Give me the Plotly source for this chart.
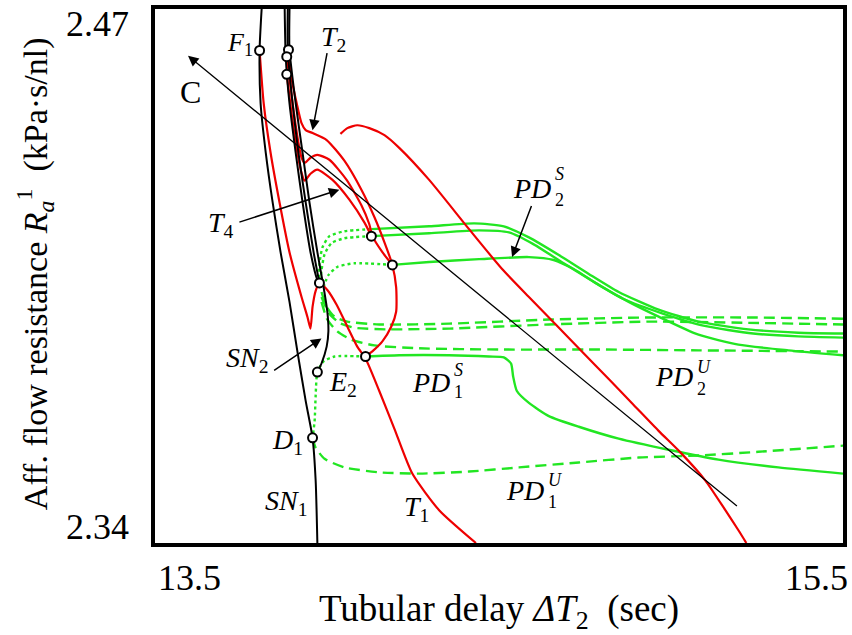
import plotly.graph_objects as go

# ---------------- data (x: tubular delay ΔT2 [sec], y: R_a^1 [kPa·s/nl]) ----------------
# saddle-node curves (black)
sn1_x = [13.810, 13.804, 13.807, 13.822, 13.842, 13.865, 13.891, 13.914, 13.938, 13.958, 13.967, 13.972]
sn1_y = [2.4700, 2.4599, 2.4470, 2.4350, 2.4229, 2.4108, 2.3987, 2.3866, 2.3746, 2.3656, 2.3552, 2.3400]

b1_x = [13.877, 13.880, 13.891, 13.909, 13.929, 13.952, 13.972, 13.978]
b1_y = [2.4700, 2.4584, 2.4470, 2.4350, 2.4229, 2.4108, 2.4040, 2.4031]
b2_x = [13.886, 13.886, 13.900, 13.917, 13.938, 13.961, 13.978]
b2_y = [2.4700, 2.4601, 2.4470, 2.4350, 2.4229, 2.4108, 2.4033]
sn2_x = [13.891, 13.891, 13.909, 13.929, 13.949, 13.972, 13.990, 14.001, 14.004, 13.999, 13.984, 13.972]
sn2_y = [2.4700, 2.4601, 2.4470, 2.4350, 2.4229, 2.4108, 2.4023, 2.3963, 2.3915, 2.3878, 2.3837, 2.3816]

# torus curves (red)
t1_x = [13.804, 13.816, 13.836, 13.862, 13.891, 13.926, 13.943, 13.952, 13.958, 13.967, 13.978,
        14.001, 14.028, 14.059, 14.088, 14.112, 14.152, 14.196, 14.248, 14.326, 14.433]
t1_y = [2.4599, 2.4470, 2.4350, 2.4229, 2.4108, 2.3999, 2.3951, 2.3922, 2.3975, 2.4014, 2.4033,
        2.4016, 2.3980, 2.3927, 2.3878, 2.3849, 2.3770, 2.3678, 2.3569, 2.3480, 2.3400]

t2_x = [13.888, 13.897, 13.912, 13.926, 13.938, 13.958, 13.999, 14.051, 14.100, 14.138, 14.167,
        14.190, 14.201, 14.201, 14.187, 14.161, 14.135, 14.112]
t2_y = [2.4601, 2.4531, 2.4470, 2.4422, 2.4405, 2.4398, 2.4381, 2.4330, 2.4260, 2.4193, 2.4132,
        2.4077, 2.4023, 2.3963, 2.3927, 2.3891, 2.3869, 2.3854]

t3_x = [13.883, 13.900, 13.917, 13.926, 13.935, 13.952, 13.972, 14.007, 14.057, 14.100, 14.123,
        14.132, 14.161, 14.190]
t3_y = [2.4584, 2.4470, 2.4374, 2.4338, 2.4325, 2.4338, 2.4345, 2.4333, 2.4284, 2.4222, 2.4176,
        2.4147, 2.4108, 2.4077]

t4_x = [13.883, 13.897, 13.914, 13.926, 13.935, 13.952, 13.972, 14.016, 14.065, 14.109, 14.129]
t4_y = [2.4541, 2.4446, 2.4350, 2.4301, 2.4282, 2.4299, 2.4309, 2.4284, 2.4236, 2.4180, 2.4147]

t5_x = [14.039, 14.059, 14.088, 14.123, 14.167, 14.210, 14.297, 14.413, 14.509, 14.587, 14.665,
        14.741, 14.819, 14.886, 14.964, 15.028, 15.100, 15.158, 15.196, 15.219]
t5_y = [2.4396, 2.4410, 2.4417, 2.4410, 2.4393, 2.4362, 2.4284, 2.4164, 2.4067, 2.3999, 2.3932,
        2.3866, 2.3799, 2.3741, 2.3673, 2.3620, 2.3552, 2.3480, 2.3431, 2.3400]

# period-doubling curves (green): stable (solid)
pd1s_x = [14.112, 14.210, 14.355, 14.471, 14.514, 14.535, 14.541, 14.552, 14.587, 14.645, 14.732,
          14.848, 14.993, 15.138, 15.312, 15.500]
pd1s_y = [2.3854, 2.3857, 2.3857, 2.3854, 2.3852, 2.3837, 2.3806, 2.3770, 2.3741, 2.3709, 2.3683,
          2.3654, 2.3627, 2.3603, 2.3584, 2.3569]

pd2s_a_x = [14.190, 14.297, 14.442, 14.587, 14.659, 14.717, 14.790, 14.877, 14.964, 15.080, 15.196, 15.341, 15.500]
pd2s_a_y = [2.4077, 2.4084, 2.4091, 2.4096, 2.4089, 2.4067, 2.4028, 2.3987, 2.3951, 2.3907, 2.3883, 2.3869, 2.3857]
pd2s_b_x = [14.129, 14.297, 14.428, 14.514, 14.587, 14.674, 14.761, 14.848, 14.964, 15.080, 15.225, 15.370, 15.500]
pd2s_b_y = [2.4164, 2.4171, 2.4178, 2.4171, 2.4144, 2.4101, 2.4055, 2.4011, 2.3968, 2.3939, 2.3920, 2.3912, 2.3910]
pd2s_c_x = [14.129, 14.297, 14.442, 14.529, 14.601, 14.688, 14.775, 14.862, 14.978, 15.094, 15.239, 15.370, 15.500]
pd2s_c_y = [2.4147, 2.4154, 2.4161, 2.4156, 2.4127, 2.4081, 2.4036, 2.3994, 2.3958, 2.3929, 2.3910, 2.3903, 2.3900]

# unstable (dashed)
pd1u_x = [13.958, 13.967, 13.993, 14.051, 14.152, 14.268, 14.413, 14.558, 14.732, 14.906, 15.080, 15.254, 15.500]
pd1u_y = [2.3656, 2.3632, 2.3605, 2.3584, 2.3572, 2.3569, 2.3574, 2.3584, 2.3596, 2.3608, 2.3613, 2.3622, 2.3637]
pd2u_a_x = [13.984, 13.999, 14.022, 14.059, 14.152, 14.355, 14.645, 14.935, 15.225, 15.500]
pd2u_a_y = [2.4011, 2.3975, 2.3951, 2.3939, 2.3932, 2.3934, 2.3944, 2.3949, 2.3949, 2.3946]
pd2u_b_x = [13.984, 14.007, 14.036, 14.080, 14.181, 14.355, 14.645, 14.935, 15.225, 15.500]
pd2u_b_y = [2.3999, 2.3958, 2.3936, 2.3924, 2.3920, 2.3922, 2.3932, 2.3939, 2.3936, 2.3932]
pd2u_c_x = [13.984, 14.001, 14.030, 14.071, 14.138, 14.268, 14.500, 14.790, 15.080, 15.500]
pd2u_c_y = [2.3987, 2.3944, 2.3915, 2.3895, 2.3881, 2.3874, 2.3871, 2.3871, 2.3869, 2.3866]

# connecting branches (dotted)
dot_a_x = [14.129, 14.051, 14.007, 13.987, 13.978, 13.978]
dot_a_y = [2.4164, 2.4159, 2.4147, 2.4120, 2.4079, 2.4031]
dot_b_x = [14.129, 14.051, 14.013, 13.993, 13.984, 13.981]
dot_b_y = [2.4147, 2.4142, 2.4130, 2.4103, 2.4064, 2.4026]
dot_c_x = [14.190, 14.080, 14.030, 14.004, 13.990]
dot_c_y = [2.4077, 2.4081, 2.4072, 2.4052, 2.4023]
dot_d_x = [14.112, 14.022, 13.990, 13.972, 13.967, 13.964, 13.958]
dot_d_y = [2.3854, 2.3854, 2.3842, 2.3816, 2.3758, 2.3697, 2.3656]

# codimension-two points
pts_x = [13.804, 13.888, 13.883, 13.883, 13.978, 14.129, 14.190, 14.112, 13.972, 13.958]
pts_y = [2.4599, 2.4601, 2.4584, 2.4541, 2.4033, 2.4147, 2.4077, 2.3854, 2.3816, 2.3656]

# continuation direction C (tip, tail)
c_tip = (13.596, 2.4586)
c_tail = (15.196, 2.3487)

x_range = [13.5, 15.5]
y_range = [2.34, 2.47]
x_ticks = ["13.5", "15.5"]
y_ticks = ["2.47", "2.34"]

RED = "rgb(238,0,0)"
GREEN = "rgb(34,230,34)"
BLACK = "black"
SERIF = "Liberation Serif, Times New Roman, serif"

fig = go.Figure()


def curve(x, y, color, width, dash="solid"):
    fig.add_trace(go.Scatter(x=x, y=y, mode="lines", hoverinfo="skip", showlegend=False,
                             line=dict(color=color, width=width, dash=dash, shape="spline",
                                       smoothing=0.6)))


# green first so red/black lie on top
for xs, ys in [(dot_a_x, dot_a_y), (dot_b_x, dot_b_y), (dot_c_x, dot_c_y), (dot_d_x, dot_d_y)]:
    curve(xs, ys, GREEN, 2.4, "3px,3px")
for xs, ys in [(pd1u_x, pd1u_y), (pd2u_a_x, pd2u_a_y), (pd2u_b_x, pd2u_b_y), (pd2u_c_x, pd2u_c_y)]:
    curve(xs, ys, GREEN, 2.4, "11px,6px")
for xs, ys in [(pd1s_x, pd1s_y), (pd2s_a_x, pd2s_a_y), (pd2s_b_x, pd2s_b_y), (pd2s_c_x, pd2s_c_y)]:
    curve(xs, ys, GREEN, 2.4)

for xs, ys in [(t1_x, t1_y), (t2_x, t2_y), (t3_x, t3_y), (t4_x, t4_y), (t5_x, t5_y)]:
    curve(xs, ys, RED, 2.2)

for xs, ys in [(sn1_x, sn1_y), (b1_x, b1_y), (b2_x, b2_y), (sn2_x, sn2_y)]:
    curve(xs, ys, BLACK, 2.0)

fig.add_trace(go.Scatter(x=pts_x, y=pts_y, mode="markers", hoverinfo="skip", showlegend=False,
                         marker=dict(symbol="circle", size=9, color="white",
                                     line=dict(color=BLACK, width=2))))

ann = []


def arrow(tip, tail, width=1.5, size=1.4):
    ann.append(dict(x=tip[0], y=tip[1], ax=tail[0], ay=tail[1], xref="x", yref="y",
                    axref="x", ayref="y", text="", showarrow=True, arrowhead=2,
                    arrowsize=size, arrowwidth=width, arrowcolor=BLACK, standoff=0))


arrow(c_tip, c_tail, 1.3, 1.6)
arrow((13.958, 2.4405), (14.001, 2.4596))   # T2
arrow((14.036, 2.4260), (13.741, 2.4180))   # T4
arrow((13.984, 2.3898), (13.842, 2.3818))   # SN2
arrow((14.538, 2.4096), (14.596, 2.4224))   # PD2S


def label(x, y, text, xanchor="center", size=28):
    ann.append(dict(x=x, y=y, xref="x", yref="y", text=text, showarrow=False,
                    xanchor=xanchor, yanchor="middle", font=dict(family=SERIF, size=size, color=BLACK)))


def pd_label(x, y_main, y_sup, y_sub, sup, sub):
    label(x, y_main, "<i>PD</i>", "right", 28)
    label(x, y_sup, "<i>%s</i>" % sup, "left", 18)
    label(x, y_sub, sub, "left", 18)


label(13.790, 2.4615, "<i>F</i><sub>1</sub>", "right", 26)
label(14.019, 2.4628, "<i>T</i><sub>2</sub>")
label(13.604, 2.4497, "C", "center", 32)
label(13.735, 2.4176, "<i>T</i><sub>4</sub>", "right")
label(13.833, 2.3847, "<i>SN</i><sub>2</sub>", "right")
label(14.001, 2.3789, "<i>E</i><sub>2</sub>", "left")
label(13.935, 2.3647, "<i>D</i><sub>1</sub>", "right")
label(13.949, 2.3499, "<i>SN</i><sub>1</sub>", "right")
label(14.259, 2.3485, "<i>T</i><sub>1</sub>")
pd_label(14.657, 2.4263, 2.4298, 2.4236, "S", "2")
pd_label(14.364, 2.3791, 2.3822, 2.3768, "S", "1")
pd_label(15.071, 2.3806, 2.3829, 2.3776, "U", "2")
pd_label(14.636, 2.3528, 2.3553, 2.3500, "U", "1")

# tick labels
tick_font = dict(family=SERIF, size=36, color=BLACK)
ann.append(dict(x=13.601, y=-0.065, xref="x", yref="paper", text=x_ticks[0], showarrow=False,
                xanchor="center", yanchor="middle", font=tick_font))
ann.append(dict(x=15.424, y=-0.065, xref="x", yref="paper", text=x_ticks[1], showarrow=False,
                xanchor="center", yanchor="middle", font=tick_font))
ann.append(dict(x=-0.084, y=2.4664, xref="paper", yref="y", text=y_ticks[0], showarrow=False,
                xanchor="center", yanchor="middle", font=tick_font))
ann.append(dict(x=-0.084, y=2.3439, xref="paper", yref="y", text=y_ticks[1], showarrow=False,
                xanchor="center", yanchor="middle", font=tick_font))

# axis titles
ann.append(dict(x=0.5, y=-0.128, xref="paper", yref="paper", showarrow=False,
                text="Tubular delay <i>ΔT</i><sub>2</sub>  (sec)", xanchor="center", yanchor="middle",
                font=dict(family=SERIF, size=37, color=BLACK)))
ann.append(dict(x=-0.174, y=0.504, xref="paper", yref="paper", showarrow=False, textangle=-90,
                text="Aff. flow resistance <i>R</i><sub><i>a</i></sub><sup>1</sup>  (kPa·s/nl)",
                xanchor="center", yanchor="middle",
                font=dict(family=SERIF, size=34, color=BLACK)))

axis_common = dict(showgrid=False, zeroline=False, showticklabels=False, ticks="",
                   showline=True, linecolor=BLACK, linewidth=4, mirror=True)

fig.update_layout(
    width=852, height=635,
    margin=dict(l=155, r=7, t=5, b=92),
    paper_bgcolor="white", plot_bgcolor="white",
    xaxis=dict(range=x_range, **axis_common),
    yaxis=dict(range=y_range, **axis_common),
    annotations=ann,
    showlegend=False,
)

fig.write_html("out.html")
